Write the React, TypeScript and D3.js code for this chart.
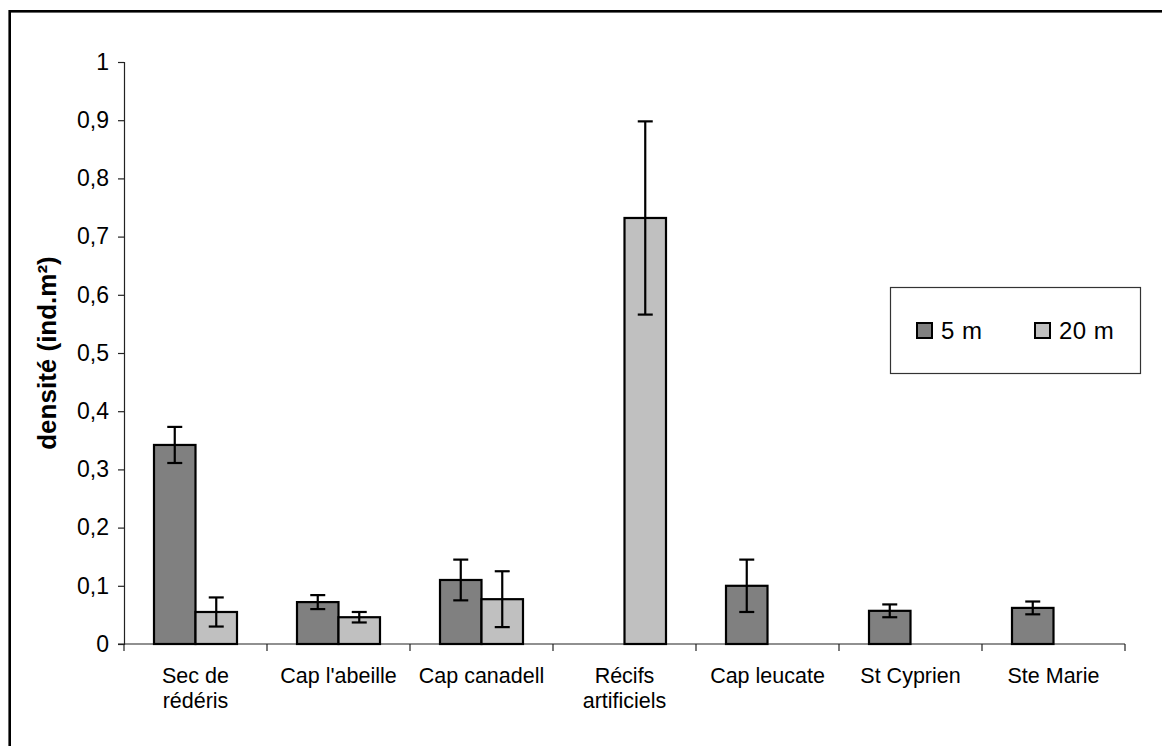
import * as d3 from 'd3';
import React, { useEffect, useRef } from 'react';

const categories = ['Sec de|rédéris', "Cap l'abeille", 'Cap canadell', 'Récifs|artificiels', 'Cap leucate', 'St Cyprien', 'Ste Marie'];
const seriesNames = ['5 m', '20 m'];
const seriesColors = ['#808080', '#c0c0c0'];
const values5m: (number | null)[] = [0.342, 0.072, 0.11, null, 0.1, 0.057, 0.062];
const errors5m: (number | null)[] = [0.031, 0.012, 0.035, null, 0.045, 0.011, 0.011];
const values20m: (number | null)[] = [0.055, 0.046, 0.077, 0.732, null, null, null];
const errors20m: (number | null)[] = [0.025, 0.009, 0.048, 0.166, null, null, null];
const yTicks = [0, 0.1, 0.2, 0.3, 0.4, 0.5, 0.6, 0.7, 0.8, 0.9, 1];

const FONT = 'Arial, "Liberation Sans", sans-serif';

export default function App() {
    const ref = useRef<SVGSVGElement>(null);
    const width = 1162;
    const height = 746;
    const left = 124;
    const right = 1125;
    const top = 62;
    const bottom = 644;

    useEffect(() => {
        const svg = d3.select(ref.current);
        svg.selectAll('*').remove();

        // outer frame (runs off the page at right/bottom)
        svg.append('rect')
            .attr('x', 9.7).attr('y', 11.3)
            .attr('width', 1400).attr('height', 1000)
            .attr('fill', 'white').attr('stroke', 'black').attr('stroke-width', 2.6);

        const x = d3.scaleBand().domain(categories).range([left, right]).padding(0);
        const xs = d3.scaleBand().domain(seriesNames).range([0, x.bandwidth()]).paddingInner(0).paddingOuter(0.723);
        const y = d3.scaleLinear().domain([0, 1]).range([bottom, top]);

        const g = svg.append('g');

        // y axis
        const yAxis = d3.axisLeft(y).tickValues(yTicks).tickSize(6).tickPadding(9)
            .tickFormat((d) => d3.format('.1~f')(d as number).replace('.', ','));
        const ya = g.append('g').attr('transform', `translate(${left},0)`).call(yAxis);
        ya.select('.domain').attr('stroke', '#222').attr('stroke-width', 1.2);
        ya.selectAll('.tick line').attr('stroke', '#222').attr('stroke-width', 1.2);
        ya.selectAll('.tick text').attr('font-family', FONT).attr('font-size', 23).attr('fill', 'black');

        // x axis
        const xa = g.append('g').attr('transform', `translate(0,${bottom})`);
        xa.append('line').attr('x1', left - 6).attr('x2', right).attr('stroke', '#222').attr('stroke-width', 1.2);
        const edges = categories.map((c) => x(c)!).concat([right]);
        xa.selectAll('.xt').data(edges).join('line').attr('class', 'xt')
            .attr('x1', (d) => d).attr('x2', (d) => d).attr('y1', 0).attr('y2', 7)
            .attr('stroke', '#222').attr('stroke-width', 1.2);
        const labels = xa.selectAll('.xl').data(categories).join('text').attr('class', 'xl')
            .attr('text-anchor', 'middle').attr('font-family', FONT).attr('font-size', 21.5);
        labels.each(function (d) {
            const t = d3.select(this);
            d.split('|').forEach((line, i) => {
                t.append('tspan').attr('x', x(d)! + x.bandwidth() / 2).attr('y', 39 + i * 25).text(line);
            });
        });

        // bars
        const series = [
            { name: seriesNames[0], vals: values5m, errs: errors5m, color: seriesColors[0] },
            { name: seriesNames[1], vals: values20m, errs: errors20m, color: seriesColors[1] },
        ];
        series.forEach((s) => {
            const data = categories.map((c, i) => ({ c, v: s.vals[i], e: s.errs[i] })).filter((d) => d.v !== null);
            g.selectAll(`.bar-${s.name.replace(' ', '')}`).data(data).join('rect')
                .attr('x', (d) => x(d.c)! + xs(s.name)!)
                .attr('y', (d) => y(d.v!))
                .attr('width', xs.bandwidth())
                .attr('height', (d) => bottom - y(d.v!))
                .attr('fill', s.color).attr('stroke', 'black').attr('stroke-width', 2.2);
            const eb = g.selectAll(`.err-${s.name.replace(' ', '')}`).data(data.filter((d) => d.e !== null)).join('g');
            const cx = (d: any) => x(d.c)! + xs(s.name)! + xs.bandwidth() / 2;
            eb.append('line').attr('x1', cx).attr('x2', cx)
                .attr('y1', (d) => y(d.v! + d.e!)).attr('y2', (d) => y(d.v! - d.e!))
                .attr('stroke', 'black').attr('stroke-width', 2.2);
            [1, -1].forEach((sg) => {
                eb.append('line').attr('x1', (d) => cx(d) - 7.5).attr('x2', (d) => cx(d) + 7.5)
                    .attr('y1', (d) => y(d.v! + sg * d.e!)).attr('y2', (d) => y(d.v! + sg * d.e!))
                    .attr('stroke', 'black').attr('stroke-width', 2.2);
            });
        });

        // y title
        svg.append('text')
            .attr('transform', `translate(56,${(top + bottom) / 2}) rotate(-90)`)
            .attr('text-anchor', 'middle').attr('font-family', FONT).attr('font-size', 26).attr('font-weight', 'bold')
            .text('densité (ind.m²)');

        // legend
        const lg = svg.append('g');
        lg.append('rect').attr('x', 890.5).attr('y', 287.5).attr('width', 250).attr('height', 86)
            .attr('fill', 'white').attr('stroke', '#333').attr('stroke-width', 1.2);
        const items = [
            { name: seriesNames[0], color: seriesColors[0], x: 917 },
            { name: seriesNames[1], color: seriesColors[1], x: 1035 },
        ];
        items.forEach((it) => {
            lg.append('rect').attr('x', it.x).attr('y', 323).attr('width', 15).attr('height', 15)
                .attr('fill', it.color).attr('stroke', 'black').attr('stroke-width', 2);
            lg.append('text').attr('x', it.x + 24).attr('y', 339).attr('font-family', FONT).attr('font-size', 24)
                .attr('letter-spacing', 0.5).text(it.name);
        });
    }, []);

    return (
        <div>
            <style>{'body{margin:0}'}</style>
            <svg ref={ref} width={width} height={height} style={{ display: 'block' }}></svg>
        </div>
    );
}
